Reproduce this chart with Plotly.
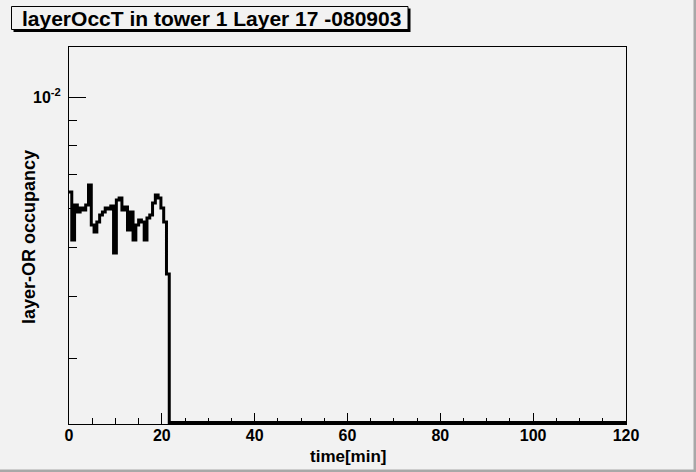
import numpy as np
import plotly.graph_objects as go

# histogram of layer-OR occupancy, 0.6 min bins over 2 hours
bin_width = 0.6
n_bins = 200
occupancy_first_bins = [
    0.006465, 0.005183, 0.006091, 0.005898, 0.006008, 0.005953,
    0.006091, 0.006676, 0.005555, 0.005379, 0.005632, 0.005817,
    0.005898, 0.006008, 0.005981, 0.006063, 0.004882, 0.006233,
    0.006290, 0.005953, 0.006035, 0.005428, 0.005898, 0.005183,
    0.005555, 0.005684, 0.005632, 0.005183, 0.005737, 0.005817,
    0.006147, 0.006376, 0.006290, 0.006008, 0.005632, 0.004432,
]
occupancy = occupancy_first_bins + [0.0] * (n_bins - len(occupancy_first_bins))

x_ticks = [0, 20, 40, 60, 80, 100, 120]
y_major = [0.01]
y_major_text = ["10<sup>-2</sup>"]
y_minor = [0.003, 0.004, 0.005, 0.006, 0.007, 0.008, 0.009]

title = "layerOccT in tower 1 Layer 17 -080903"
x_title = "time[min]"
y_title = "layer-OR occupancy"

# axis range (log10)
ylog_min, ylog_max = -2.6534, -1.8994

W, H = 696, 472
L, R, T, B = 69, 70, 47, 48
bg = "#f2f2f2"
font = "Liberation Sans"


def px(X):
    return (X - L) / (W - L - R)


def py(Y):
    return (H - B - Y) / (H - T - B)


# empty bins drawn on the frame bottom like ROOT does
floor = 10 ** (ylog_min + 0.003)
edges = np.arange(n_bins + 1) * bin_width
yvals = [v if v > 0 else floor for v in occupancy]
yvals = yvals + [yvals[-1]]

fig = go.Figure()
fig.add_trace(go.Scatter(x=edges, y=yvals, mode="lines", line_shape="hv",
                         line=dict(color="black", width=3), hoverinfo="skip"))

axis_font = dict(family=font, size=16, color="black", weight="bold")
fig.update_xaxes(range=[0, 120], tickvals=x_ticks, ticks="inside", ticklen=11,
                 tickwidth=1, tickcolor="black", showline=True, linecolor="black",
                 linewidth=1, mirror=True, showgrid=False, zeroline=False,
                 tickfont=axis_font, ticklabelstandoff=-3,
                 minor=dict(dtick=5, ticks="inside", ticklen=6, tickcolor="black",
                            showgrid=False))
fig.update_yaxes(type="log", range=[ylog_min, ylog_max], tickvals=y_major,
                 ticktext=y_major_text, ticks="inside", ticklen=17, tickwidth=1,
                 tickcolor="black", showline=True, linecolor="black", linewidth=1,
                 mirror=True, showgrid=False, zeroline=False, tickfont=axis_font,
                 ticklabelstandoff=4,
                 minor=dict(tickmode="array", tickvals=y_minor, ticks="inside",
                            ticklen=8, tickcolor="black", showgrid=False))

shapes = [
    # title box with shadow
    dict(type="rect", xref="paper", yref="paper", x0=px(13.5), x1=px(410.5),
         y0=py(8.5), y1=py(32), fillcolor="black", line_width=0),
    dict(type="rect", xref="paper", yref="paper", x0=px(11.5), x1=px(408),
         y0=py(6.5), y1=py(29.5), fillcolor=bg, line=dict(color="black", width=1)),
    # canvas bevel
    dict(type="rect", xref="paper", yref="paper", x0=px(693.5), x1=px(696),
         y0=py(0), y1=py(472), fillcolor="#a8a8a8", line_width=0),
    dict(type="rect", xref="paper", yref="paper", x0=px(0), x1=px(696),
         y0=py(469.5), y1=py(472), fillcolor="#a8a8a8", line_width=0),
]

annotations = [
    dict(text=title, xref="paper", yref="paper", x=px(211), y=py(18.5),
         xanchor="center", yanchor="middle", showarrow=False,
         font=dict(family=font, size=21, color="black", weight="bold")),
    dict(text=x_title, xref="paper", yref="paper", x=px(348), y=py(456),
         xanchor="center", yanchor="middle", showarrow=False,
         font=dict(family=font, size=17, color="black", weight="bold")),
    dict(text=y_title, xref="paper", yref="paper", x=px(29), y=py(237),
         xanchor="center", yanchor="middle", showarrow=False, textangle=-90,
         font=dict(family=font, size=18, color="black", weight="bold")),
]

fig.update_layout(width=W, height=H, autosize=False,
                  margin=dict(l=L, r=R, t=T, b=B, pad=0),
                  paper_bgcolor=bg, plot_bgcolor=bg, showlegend=False,
                  shapes=shapes, annotations=annotations)

# drop the browser's default body margin so the canvas sits at the corner
fig.write_html("out.html", config={"displayModeBar": False},
               post_script="document.body.style.margin='0px';")
